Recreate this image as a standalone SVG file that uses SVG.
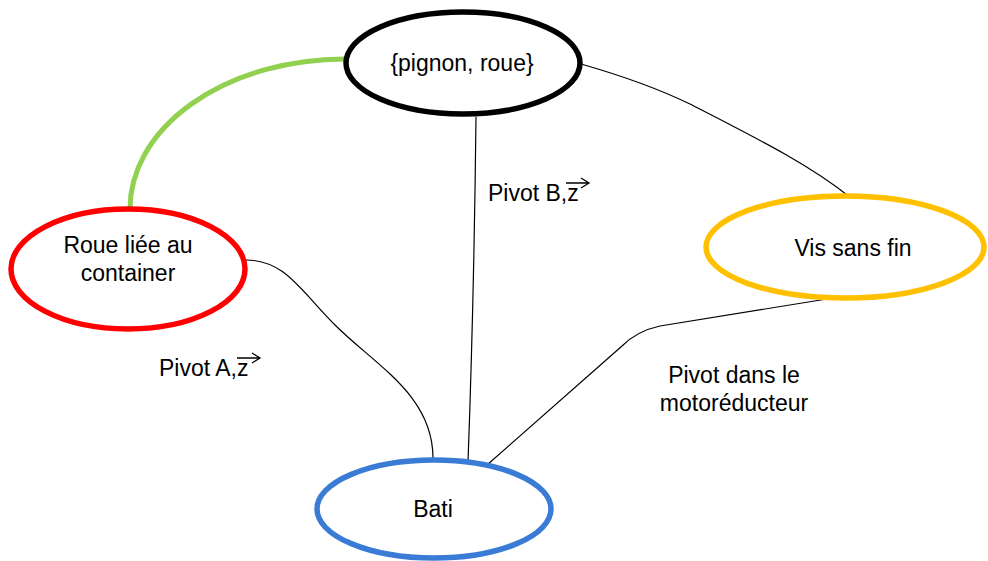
<svg xmlns="http://www.w3.org/2000/svg" width="988" height="561" viewBox="0 0 988 561">
<defs>
<style>
text{font-family:"Liberation Sans",Arial,sans-serif;font-size:23px;fill:#000}
.c{text-anchor:middle}
.node{fill:#fff;stroke-width:5.5}
.link{fill:none;stroke:#000;stroke-width:1.2}
.vec{fill:none;stroke:#000;stroke-width:1.3}
</style>
</defs>
<rect width="988" height="561" fill="#fff"/>
<g id="connectors">
<path class="link" d="M581,64 C630,78 665,92 690,104 C760,140 810,165 851,198"/>
<path class="link" d="M476,117 Q474,300 468,462"/>
<path class="link" d="M246,260 C285,260 300,290 335,325 C375,365 433,395 433,458"/>
<path class="link" d="M833,298 L660,326 Q637,331 622,346 L487,465"/>
<path d="M130,211 A215,150 0 0 1 345,59" fill="none" stroke="#92d050" stroke-width="5" stroke-linecap="round"/>
</g>
<g id="node-pignon-roue">
<ellipse class="node" cx="463" cy="63" rx="117" ry="51" stroke="#000"/>
<text class="c" x="462" y="71">{pignon, roue}</text>
</g>
<g id="node-roue-container">
<ellipse class="node" cx="128" cy="269" rx="117" ry="60" stroke="#ff0000"/>
<text class="c" x="128" y="253">Roue liée au</text>
<text class="c" x="128" y="281">container</text>
</g>
<g id="node-vis-sans-fin">
<ellipse class="node" cx="845" cy="247" rx="139" ry="51" stroke="#ffc000"/>
<text class="c" x="853" y="256">Vis sans fin</text>
</g>
<g id="node-bati">
<ellipse class="node" cx="434" cy="509" rx="117" ry="49" stroke="#3a7bd5"/>
<text class="c" x="433" y="517">Bati</text>
</g>
<g id="label-pivot-b">
<text x="488" y="201">Pivot B,z</text>
<path class="vec" d="M566,183 H588 M581,178 L589,183 L581,188"/>
</g>
<g id="label-pivot-a">
<text x="159" y="376">Pivot A,z</text>
<path class="vec" d="M237,358 H259 M252,353 L260,358 L252,363"/>
</g>
<g id="label-pivot-moto">
<text class="c" x="734" y="383">Pivot dans le</text>
<text class="c" x="734" y="411">motoréducteur</text>
</g>
</svg>
